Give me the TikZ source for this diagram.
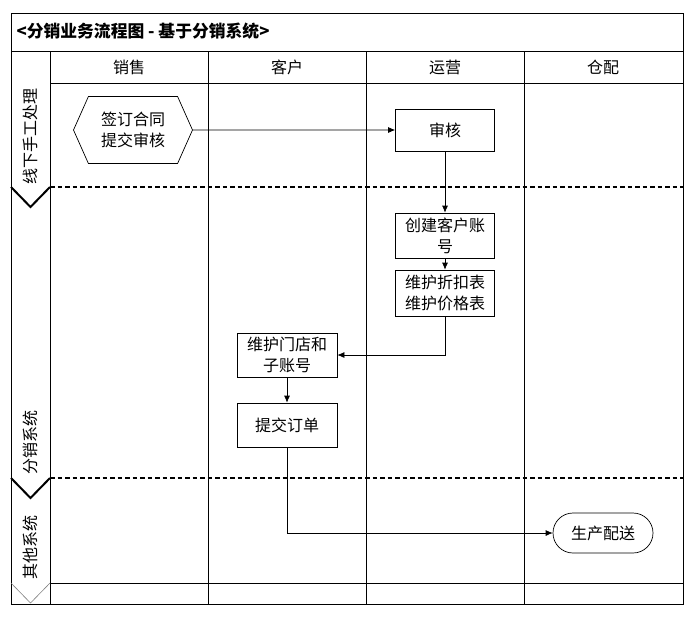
\documentclass[tikz,border=0pt]{standalone}
\usepackage{fontspec}
\setmainfont{Noto Sans CJK SC}
\usetikzlibrary{arrows.meta}
\usetikzlibrary{positioning}
\usetikzlibrary{shapes.symbols}

\begin{document}
\begin{tikzpicture}[x=1pt,y=-1pt,>={Latex[length=7pt,width=6pt]},node distance=1cm,on grid,
        every node/.style={font=\fontsize{16}{21}\selectfont},
        frame/.style={line width=1pt},
        lanesep/.style={line width=1.8pt,dash pattern=on 4.5pt off 3pt},
        chev/.style={line width=2pt,line join=miter},
        task/.style={draw,line width=0.7pt,minimum width=99pt,minimum height=44pt,align=center,inner sep=1pt},
        prep/.style={draw,line width=0.7pt,signal,signal to=west and east,signal pointer angle=132,
          minimum width=119pt,minimum height=67pt,align=center,inner sep=1pt},
        term/.style={draw,line width=0.7pt,rounded corners=20pt,minimum width=100pt,minimum height=40pt},
        lanelbl/.style={rotate=90,anchor=west,inner sep=1pt}]

        \useasboundingbox (0,0) rectangle (700,616);

        % swimlane frame
        \draw[frame] (11,13) rectangle (683,604);
        \draw[frame] (11,51) -- (683,51);
        \draw[frame] (50,83) -- (683,83);
        \draw[frame] (50,51) -- (50,604);
        \foreach \x in {208,366,524}
          \draw[frame] (\x,51) -- (\x,604);
        \draw[frame] (50,583) -- (683,583);
        \draw[lanesep] (50,187) -- (683,187);
        \draw[lanesep] (50,478) -- (683,478);
        \draw[chev] (11,187) -- (30.5,207) -- (50,187);
        \draw[chev] (11,478) -- (30.5,498) -- (50,478);
        \draw[gray,line width=0.6pt] (11,583) -- (30.5,603) -- (50,583);

        \node[anchor=west,font=\fontsize{16.8}{20}\selectfont\bfseries] (title) at (13,31) {<分销业务流程图 - 基于分销系统>};

        \node[] (hsales) at (129,67) {销售};
        \node[] (hcust) at (287,67) {客户};
        \node[] (hops) at (445,67) {运营};
        \node[] (hdist) at (603,67) {仓配};

        \node[lanelbl] (l1) at (30.5,186) {线下手工处理};
        \node[lanelbl] (l2) at (30.5,476) {分销系统};
        \node[lanelbl] (l3) at (30.5,581) {其他系统};

        \node[prep] (contract) at (133,130) {签订合同\\提交审核};
        \node[task,minimum height=42pt] (audit) [right=312pt of contract] {审核};
        \node[task,minimum height=45pt] (account) [below=105.5pt of audit] {创建客户账\\号};
        \node[task,minimum height=46pt] (price) [below=57.5pt of account] {维护折扣表\\维护价格表};
        \node[task,minimum width=100pt] (store) at (287,355) {维护门店和\\子账号};
        \node[task,minimum width=100pt] (order) [below=70pt of store] {提交订单};
        \node[term] (ship) at (603,533) {生产配送};

        \path[->,line width=0.7pt]
        (contract) edge [] node[] {} (audit)
        (audit) edge [] node[] {} (account)
        (account) edge [] node[] {} (price)
        (store) edge [] node[] {} (order);

        \draw[->,line width=0.7pt] (price.south) |- (store.east);
        \draw[->,line width=0.7pt] (order.south) |- (ship.west);

      \end{tikzpicture}
\end{document}
